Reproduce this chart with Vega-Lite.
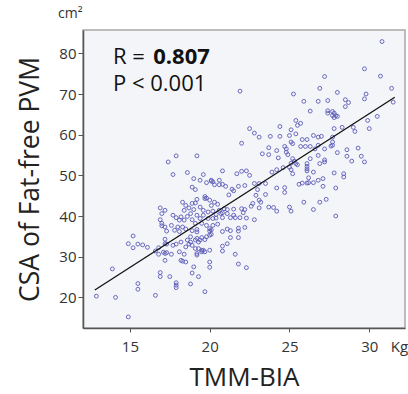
{
  "$schema": "https://vega.github.io/schema/vega-lite/v6.json",
  "width": 322,
  "height": 298,
  "autosize": {"type": "none"},
  "padding": {"left": 83, "top": 30, "right": 3, "bottom": 66},
  "background": "white",
  "config": {
    "font": "Open Sans",
    "view": {"fill": "#f4f5f9", "stroke": "#a8a8a8", "strokeWidth": 1.5},
    "axis": {"grid": false, "labelFont": "Open Sans", "titleFont": "Open Sans", "labelColor": "#333", "titleColor": "#222", "titleFontWeight": "normal", "domainColor": "#555", "domainWidth": 1.5, "tickColor": "#555"}
  },
  "title": {"text": "cm²", "anchor": "start", "frame": "group", "fontSize": 14, "fontWeight": "normal", "color": "#333", "dx": -25, "offset": 9, "font": "Open Sans"},
  "datasets": {
    "pts": [
      {"x":16.9,"y":42.0},{"x":17.0,"y":40.6},{"x":16.9,"y":39.1},{"x":17.0,"y":38.2},{"x":17.0,"y":37.6},{"x":15.2,"y":35.1},{"x":14.9,"y":33.2},{"x":15.5,"y":33.1},{"x":15.8,"y":32.9},{"x":15.2,"y":32.2},{"x":16.1,"y":32.3},{"x":16.8,"y":32.2},{"x":16.6,"y":31.4},{"x":16.8,"y":30.6},{"x":13.9,"y":27.0},{"x":16.9,"y":26.1},{"x":16.9,"y":25.1},{"x":15.5,"y":23.4},{"x":15.5,"y":22.0},{"x":12.9,"y":20.3},{"x":14.1,"y":20.0},{"x":16.6,"y":20.5},{"x":14.9,"y":15.2},
      {"x":17.3,"y":36.3},{"x":17.8,"y":36.5},{"x":18.1,"y":36.2},{"x":18.9,"y":36.4},{"x":19.2,"y":36.1},{"x":20.0,"y":36.3},{"x":20.1,"y":36.6},{"x":20.8,"y":36.2},{"x":21.3,"y":36.4},{"x":21.8,"y":36.3},
      {"x":17.2,"y":34.3},{"x":17.2,"y":33.2},{"x":17.3,"y":33.1},{"x":17.1,"y":31.1},{"x":17.2,"y":30.8},{"x":17.3,"y":31.0},{"x":17.6,"y":30.6},{"x":17.2,"y":29.1},{"x":17.5,"y":25.1},
      {"x":17.7,"y":32.8},{"x":17.9,"y":33.1},{"x":18.2,"y":33.6},{"x":18.1,"y":31.2},{"x":18.4,"y":30.6},{"x":18.2,"y":29.1},{"x":18.3,"y":28.9},{"x":18.5,"y":28.7},{"x":18.5,"y":32.4},{"x":18.6,"y":34.1},{"x":18.7,"y":33.1},{"x":18.8,"y":34.9},{"x":18.9,"y":32.8},{"x":19.1,"y":32.0},{"x":19.2,"y":30.8},{"x":19.2,"y":30.4},
      {"x":18.8,"y":33.6},{"x":19.1,"y":34.1},{"x":19.2,"y":34.5},{"x":19.3,"y":33.6},{"x":19.4,"y":34.1},{"x":19.5,"y":34.7},{"x":19.7,"y":34.2},{"x":19.8,"y":34.9},{"x":20.0,"y":35.3},{"x":20.1,"y":35.5},
      {"x":19.3,"y":32.0},{"x":19.5,"y":31.6},{"x":19.6,"y":31.6},{"x":19.7,"y":31.2},{"x":19.5,"y":31.2},
      {"x":19.0,"y":27.5},{"x":18.9,"y":26.0},{"x":19.3,"y":25.1},{"x":20.0,"y":28.7},{"x":20.0,"y":27.4},{"x":20.0,"y":31.6},
      {"x":17.9,"y":23.6},{"x":17.9,"y":23.0},{"x":17.9,"y":22.4},{"x":18.8,"y":23.3},{"x":19.7,"y":21.4},
      {"x":20.8,"y":32.6},{"x":20.8,"y":31.4},{"x":21.1,"y":33.2},{"x":21.3,"y":34.7},{"x":21.8,"y":34.7},{"x":21.6,"y":30.6},{"x":21.8,"y":28.2},{"x":22.3,"y":27.3},
      {"x":17.9,"y":54.8},{"x":19.2,"y":54.8},{"x":17.4,"y":53.3},{"x":22.0,"y":57.9},{"x":17.7,"y":50.2},{"x":18.6,"y":50.7},{"x":20.8,"y":51.1},{"x":21.7,"y":50.4},{"x":22.0,"y":51.0},{"x":19.0,"y":49.2},{"x":19.6,"y":50.2},{"x":19.4,"y":48.8},{"x":19.8,"y":48.2},{"x":20.1,"y":48.6},{"x":20.2,"y":48.4},{"x":20.1,"y":48.8},{"x":20.6,"y":48.8},{"x":20.3,"y":47.7},{"x":20.6,"y":47.7},{"x":20.8,"y":47.8},{"x":21.0,"y":47.3},{"x":18.9,"y":47.1},{"x":19.1,"y":46.5},{"x":21.4,"y":46.6},{"x":21.5,"y":46.2},{"x":21.8,"y":47.3},{"x":21.2,"y":45.2},{"x":19.7,"y":44.8},{"x":19.8,"y":44.4},{"x":19.7,"y":44.3},{"x":19.2,"y":44.1},{"x":19.1,"y":43.2},{"x":18.9,"y":43.1},{"x":18.3,"y":43.4},{"x":20.0,"y":43.9},{"x":20.3,"y":43.4},{"x":20.5,"y":42.9},{"x":20.1,"y":42.6},{"x":19.4,"y":42.2},{"x":18.5,"y":42.6},{"x":18.7,"y":42.0},{"x":19.0,"y":41.6},{"x":18.4,"y":41.4},{"x":19.6,"y":41.4},{"x":19.9,"y":41.0},{"x":20.2,"y":41.2},{"x":20.6,"y":41.4},{"x":20.9,"y":41.8},{"x":21.1,"y":41.6},{"x":21.5,"y":41.7},{"x":22.0,"y":41.8},{"x":20.8,"y":40.8},{"x":20.7,"y":40.6},{"x":21.1,"y":40.6},{"x":20.4,"y":40.4},{"x":19.6,"y":40.2},{"x":19.2,"y":40.2},{"x":18.8,"y":40.6},{"x":18.6,"y":39.9},{"x":18.2,"y":39.8},{"x":17.7,"y":40.2},{"x":17.2,"y":41.4},{"x":17.9,"y":39.6},{"x":18.1,"y":39.0},{"x":18.4,"y":39.0},{"x":18.9,"y":39.1},{"x":19.4,"y":39.4},{"x":19.9,"y":39.4},{"x":20.2,"y":39.4},{"x":20.4,"y":39.5},{"x":20.8,"y":39.6},{"x":21.3,"y":39.6},{"x":21.5,"y":40.2},{"x":21.6,"y":39.6},{"x":21.9,"y":39.6},{"x":19.1,"y":38.2},{"x":19.5,"y":38.2},{"x":19.8,"y":37.7},{"x":20.2,"y":37.7},{"x":20.5,"y":38.0},{"x":17.6,"y":37.7},{"x":18.0,"y":37.3},{"x":18.3,"y":37.3},{"x":17.2,"y":37.3},{"x":18.5,"y":36.8},{"x":19.2,"y":36.7},{"x":20.0,"y":36.9},{"x":21.1,"y":36.8},{"x":21.8,"y":37.0},
      {"x":21.9,"y":70.7},{"x":25.25,"y":70.0},{"x":26.9,"y":71.4},{"x":27.2,"y":74.3},{"x":25.9,"y":68.2},{"x":26.8,"y":68.2},{"x":26.3,"y":65.8},{"x":25.4,"y":63.5},{"x":25.7,"y":62.8},{"x":25.5,"y":62.3},{"x":24.4,"y":62.0},{"x":22.5,"y":61.5},{"x":25.1,"y":61.2},
      {"x":30.8,"y":82.9},{"x":29.7,"y":76.2},{"x":30.7,"y":74.4},{"x":31.4,"y":71.4},{"x":28.0,"y":70.4},{"x":29.8,"y":70.0},{"x":29.7,"y":68.8},{"x":31.5,"y":68.0},{"x":27.4,"y":68.4},{"x":28.5,"y":68.6},{"x":28.7,"y":67.9},{"x":28.5,"y":66.9},{"x":27.4,"y":65.9},{"x":27.4,"y":65.3},{"x":27.7,"y":65.7},{"x":27.8,"y":65.3},{"x":27.7,"y":64.7},{"x":27.9,"y":64.7},{"x":28.0,"y":64.5},{"x":27.8,"y":64.2},{"x":28.3,"y":61.8},{"x":27.8,"y":61.5},{"x":29.0,"y":61.8},{"x":29.9,"y":63.5},{"x":30.5,"y":64.5},{"x":30.0,"y":61.5},
      {"x":29.1,"y":60.8},{"x":27.7,"y":59.4},{"x":27.7,"y":58.2},{"x":27.6,"y":57.2},{"x":27.7,"y":57.4},{"x":27.2,"y":56.5},{"x":28.0,"y":55.6},{"x":28.6,"y":56.3},{"x":29.3,"y":56.7},{"x":28.6,"y":54.7},{"x":28.9,"y":53.5},{"x":29.5,"y":54.7},{"x":29.7,"y":53.3},{"x":27.2,"y":53.8},{"x":27.2,"y":53.3},{"x":27.8,"y":50.6},{"x":28.4,"y":50.4},{"x":28.4,"y":49.6},{"x":27.1,"y":47.3},{"x":27.9,"y":46.9},{"x":27.3,"y":44.1},{"x":27.9,"y":40.0},
      {"x":22.8,"y":60.4},{"x":23.1,"y":59.4},{"x":23.8,"y":59.6},{"x":24.4,"y":59.6},{"x":25.0,"y":59.8},{"x":25.4,"y":60.2},{"x":25.8,"y":58.8},{"x":26.1,"y":58.8},{"x":26.5,"y":59.8},{"x":26.8,"y":59.4},{"x":27.0,"y":59.6},{"x":24.7,"y":57.1},{"x":24.8,"y":56.5},{"x":25.1,"y":58.2},{"x":25.2,"y":57.8},{"x":25.7,"y":57.1},{"x":26.0,"y":57.1},{"x":26.3,"y":57.1},{"x":26.6,"y":56.5},{"x":26.8,"y":57.4},{"x":23.7,"y":56.8},{"x":24.2,"y":56.1},{"x":23.3,"y":55.3},{"x":23.7,"y":55.1},{"x":24.8,"y":55.7},{"x":24.9,"y":55.1},{"x":24.3,"y":54.3},{"x":25.2,"y":54.1},{"x":25.3,"y":53.5},{"x":25.1,"y":53.0},{"x":25.4,"y":52.9},{"x":25.5,"y":52.6},{"x":26.1,"y":52.9},{"x":26.1,"y":52.2},{"x":26.1,"y":51.6},{"x":26.1,"y":51.1},{"x":26.3,"y":54.1},{"x":26.9,"y":52.9},{"x":26.8,"y":54.9},{"x":25.0,"y":52.0},{"x":25.1,"y":51.4},{"x":24.6,"y":51.9},{"x":24.2,"y":51.4},{"x":23.9,"y":50.8},{"x":25.2,"y":50.4},{"x":26.5,"y":50.8},{"x":26.2,"y":49.4},{"x":26.8,"y":48.8},{"x":27.1,"y":49.2},{"x":26.2,"y":48.2},{"x":26.5,"y":48.2},{"x":26.1,"y":48.1},{"x":25.8,"y":48.1},{"x":25.6,"y":47.8},{"x":22.3,"y":51.1},{"x":22.5,"y":50.0},{"x":23.5,"y":48.0},{"x":22.8,"y":48.0},{"x":23.1,"y":48.0},{"x":22.2,"y":47.5},{"x":23.0,"y":46.5},{"x":24.2,"y":46.9},{"x":24.7,"y":47.0},{"x":24.7,"y":45.8},{"x":23.5,"y":45.3},{"x":22.9,"y":45.1},{"x":23.1,"y":43.9},{"x":23.2,"y":43.4},{"x":22.7,"y":43.1},{"x":22.6,"y":42.4},{"x":23.7,"y":42.2},{"x":24.0,"y":42.1},{"x":23.1,"y":42.0},{"x":25.0,"y":42.2},{"x":25.1,"y":41.2},{"x":24.2,"y":41.2},{"x":22.2,"y":41.6},{"x":22.1,"y":40.8},{"x":25.9,"y":43.4},{"x":26.9,"y":43.4},{"x":26.5,"y":41.6},{"x":22.3,"y":39.5},{"x":22.8,"y":39.1},{"x":22.2,"y":37.2}
    ],
    "fit": [{"x": 12.8, "y": 21.8}, {"x": 31.6, "y": 69.2}],
    "txtn": [{"x": 13.94, "y": 77.4, "t": "R ="}, {"x": 13.94, "y": 70.85, "t": "P < 0.001"}],
    "txtb": [{"x": 16.46, "y": 77.4, "t": "0.807"}]
  },
  "encoding": {
    "x": {"field": "x", "type": "quantitative",
      "scale": {"domain": [12.06, 32.24], "nice": false, "zero": false},
      "axis": {"title": "TMM-BIA", "titleFontSize": 26, "titlePadding": 10, "values": [15, 20, 25, 30, 31.86],
        "labelExpr": "datum.value > 31 ? 'Kg' : datum.label", "labelFontSize": 15, "labelPadding": 7, "tickSize": 4,
        "labelOverlap": false, "labelFlush": false,
        "tickOpacity": {"condition": {"test": "datum.value > 31", "value": 0}, "value": 1}}},
    "y": {"field": "y", "type": "quantitative",
      "scale": {"domain": [12.47, 85.74], "nice": false, "zero": false},
      "axis": {"title": "CSA of Fat-free PVM", "titleFontSize": 26.5, "titlePadding": 14, "values": [20, 30, 40, 50, 60, 70, 80],
        "labelFontSize": 15, "labelPadding": 2, "tickSize": 5}}
  },
  "layer": [
    {"data": {"name": "pts"}, "mark": {"type": "point", "filled": false, "color": "#5a5ab8", "size": 15, "strokeWidth": 1, "opacity": 0.9}},
    {"data": {"name": "fit"}, "mark": {"type": "line", "color": "#111", "strokeWidth": 1.3}},
    {"data": {"name": "txtn"}, "mark": {"type": "text", "align": "left", "baseline": "alphabetic", "fontSize": 22, "color": "#111", "font": "Open Sans"}, "encoding": {"text": {"field": "t"}}},
    {"data": {"name": "txtb"}, "mark": {"type": "text", "align": "left", "baseline": "alphabetic", "fontSize": 22, "fontWeight": "bold", "color": "#111", "font": "Open Sans"}, "encoding": {"text": {"field": "t"}}}
  ]
}
